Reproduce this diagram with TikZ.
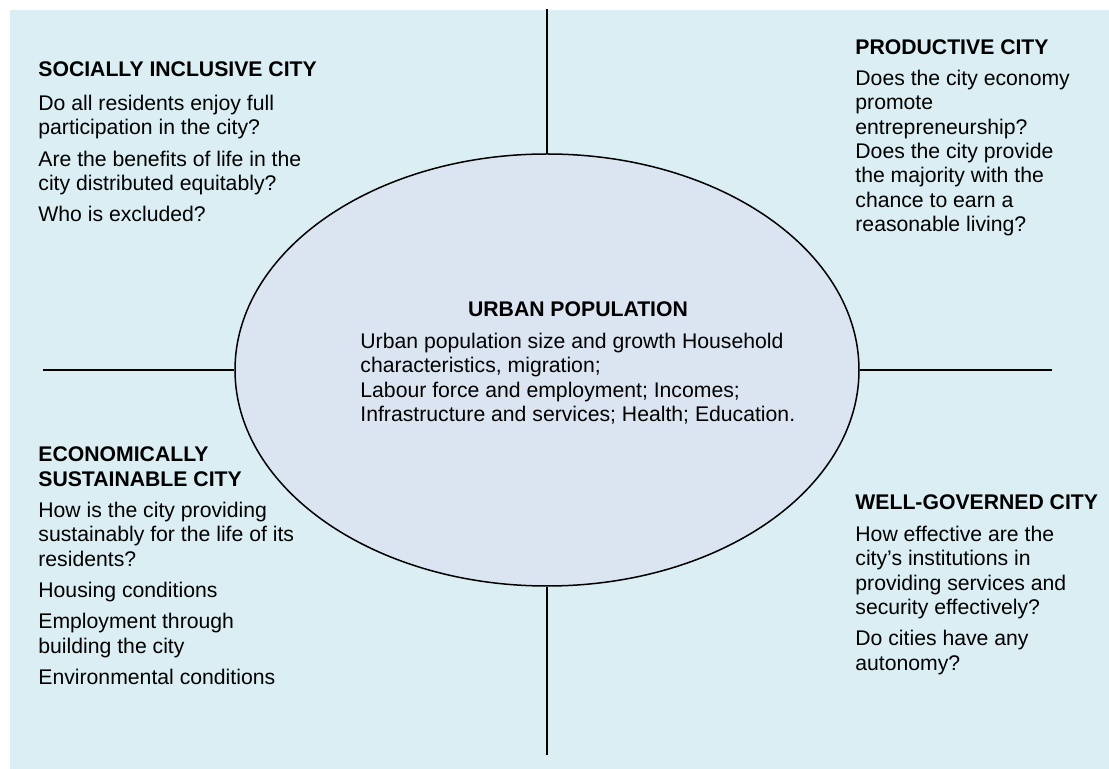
\documentclass[tikz,border=0pt]{standalone}
\usepackage{fontspec}
\setmainfont{Liberation Sans}
\usetikzlibrary{shapes.geometric}
\definecolor{paleaqua}{HTML}{DAEEF3}
\definecolor{palelilac}{HTML}{DBE5F1}
\begin{document}
\begin{tikzpicture}[x=0.5pt, y=-0.5pt,
    every node/.style={inner sep=0pt, font=\fontsize{10.6}{12.2}\selectfont},
    heading/.style={below right, align=left, font=\fontsize{10.6}{12.2}\selectfont\bfseries},
    question/.style={below right, align=left}]
    \useasboundingbox (0, 0) rectangle (1109, 769);
    \fill[paleaqua] (10, 10) rectangle (1109, 769);
    \node[draw, ellipse, fill=palelilac, line width=0.75pt, minimum width=312pt, minimum height=216pt] (pop) at (547, 370) {};
    \coordinate (topEnd) at (547, 9);
    \coordinate (bottomEnd) at (547, 755);
    \coordinate (leftEnd) at (43, 370);
    \coordinate (rightEnd) at (1052, 370);
    \draw[line width=1pt] (topEnd) -- (pop.north);
    \draw[line width=1pt] (pop.south) -- (bottomEnd);
    \draw[line width=1pt] (leftEnd) -- (pop.west);
    \draw[line width=1pt] (pop.east) -- (rightEnd);
    % centre
    \node[below, font=\fontsize{10.6}{12.2}\selectfont\bfseries] (popTitle) at (578, 301.5) {URBAN POPULATION};
    \node[question] (popText) at (360, 332.5) {Urban population size and growth Household\\ characteristics, migration;\\ Labour force and employment; Incomes;\\ Infrastructure and services; Health; Education.};
    % socially inclusive
    \node[heading] (socialTitle) at (38, 61.5) {SOCIALLY INCLUSIVE CITY};
    \node[question] (socialText) at (38, 94.5) {Do all residents enjoy full\\ participation in the city?\\[3.5pt] Are the benefits of life in the\\ city distributed equitably?\\[3.5pt] Who is excluded?};
    % productive
    \node[heading] (prodTitle) at (855, 39.5) {PRODUCTIVE CITY};
    \node[question] (prodText) at (855, 69.5) {Does the city economy\\ promote\\ entrepreneurship?\\ Does the city provide\\ the majority with the\\ chance to earn a\\ reasonable living?};
    % economically sustainable
    \node[heading] (econTitle) at (38, 446.5) {ECONOMICALLY\\ SUSTAINABLE CITY};
    \node[question] (econText) at (38, 501.5) {How is the city providing\\ sustainably for the life of its\\ residents?\\[3.5pt] Housing conditions\\[3.5pt] Employment through\\ building the city\\[3.5pt] Environmental conditions};
    % well-governed
    \node[heading] (govTitle) at (855, 494.5) {WELL-GOVERNED CITY};
    \node[question] (govText) at (855, 525.5) {How effective are the\\ city’s institutions in\\ providing services and\\ security effectively?\\[3.5pt] Do cities have any\\ autonomy?};
\end{tikzpicture}
\end{document}
